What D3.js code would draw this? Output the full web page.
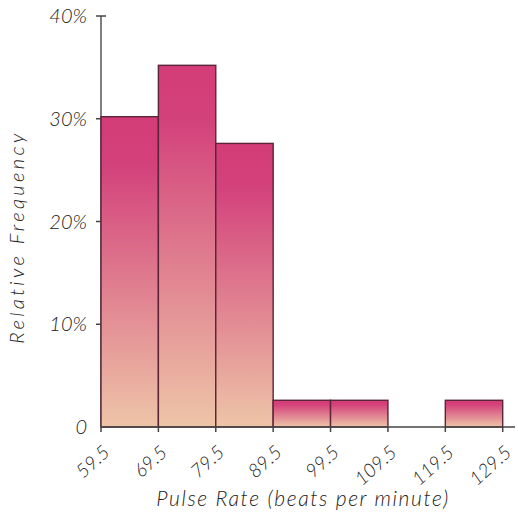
<!DOCTYPE html>
<html><head><meta charset="utf-8">
<script src="https://cdn.jsdelivr.net/npm/d3@7"></script>
<style>
body{margin:0;background:#fff;}
text{font-family:Lato,"Open Sans","DejaVu Sans",sans-serif;font-style:italic;font-weight:300;fill:#222;}
</style>
</head><body>
<svg id="chart" width="518" height="516"></svg>
<script>
const binEdges = [59.5, 69.5, 79.5, 89.5, 99.5, 109.5, 119.5, 129.5];
const binLabels = ["59.5","69.5","79.5","89.5","99.5","109.5","119.5","129.5"];
const relFreq = [30.2, 35.2, 27.6, 2.6, 2.6, 0, 2.6];
const yTicks = [0, 10, 20, 30, 40];
const yTickLabels = ["0", "10%", "20%", "30%", "40%"];
const xTitle = "Pulse Rate (beats per minute)";
const yTitle = "Relative Frequency";

const svg = d3.select("#chart");
const x = d3.scaleLinear().domain([59.5, 129.5]).range([101, 502.7]);
const y = d3.scaleLinear().domain([0, 40]).range([427, 16]);

const defs = svg.append("defs");
const grad = defs.append("linearGradient").attr("id","barGrad")
  .attr("x1",0).attr("y1",0).attr("x2",0).attr("y2",1);
grad.append("stop").attr("offset","0%").attr("stop-color","#d33c78");
grad.append("stop").attr("offset","15%").attr("stop-color","#d3417b");
grad.append("stop").attr("offset","100%").attr("stop-color","#eec5a7");

const bins = relFreq.map((v,i)=>({x0:binEdges[i], x1:binEdges[i+1], v}));

svg.append("line").attr("x1",x(59.5)).attr("x2",x(59.5)).attr("y1",y(40)).attr("y2",y(0))
  .attr("stroke","#555").attr("stroke-width",1.5);
svg.selectAll(".ytick").data(yTicks.filter(d=>d>0)).enter().append("line")
  .attr("x1",x(59.5)-5).attr("x2",x(59.5)+5).attr("y1",d=>y(d)).attr("y2",d=>y(d))
  .attr("stroke","#444").attr("stroke-width",1.5);

svg.selectAll(".bar").data(bins.filter(d=>d.v>0)).enter().append("rect")
  .attr("x",d=>x(d.x0)).attr("width",d=>x(d.x1)-x(d.x0))
  .attr("y",d=>y(d.v)).attr("height",d=>y(0)-y(d.v))
  .attr("fill","url(#barGrad)").attr("stroke","#5b2438").attr("stroke-width",1.4);

svg.append("line").attr("x1",x(59.5)).attr("x2",515).attr("y1",y(0)).attr("y2",y(0))
  .attr("stroke","#444").attr("stroke-width",1.5);
svg.selectAll(".xtick").data(binEdges).enter().append("line")
  .attr("x1",d=>x(d)).attr("x2",d=>x(d)).attr("y1",y(0)).attr("y2",y(0)+5)
  .attr("stroke","#444").attr("stroke-width",1.5);

svg.selectAll(".xlab").data(binEdges).enter().append("text")
  .attr("transform",d=>`translate(${x(d)+10},${y(0)+27}) rotate(-42)`)
  .attr("text-anchor","end").attr("font-size",19)
  .text((d,i)=>binLabels[i]);

svg.selectAll(".ylab").data(yTicks).enter().append("text")
  .attr("x",x(59.5)-14).attr("y",d=>y(d)+7).attr("text-anchor","end")
  .attr("font-size",20).text((d,i)=>yTickLabels[i]);

svg.append("text").attr("x",303).attr("y",506).attr("text-anchor","middle")
  .attr("font-size",21).attr("letter-spacing",1.6).text(xTitle);
svg.append("text").attr("transform","translate(24,237) rotate(-90)")
  .attr("text-anchor","middle").attr("font-size",20).attr("letter-spacing",3.4).text(yTitle);
</script>
</body></html>
